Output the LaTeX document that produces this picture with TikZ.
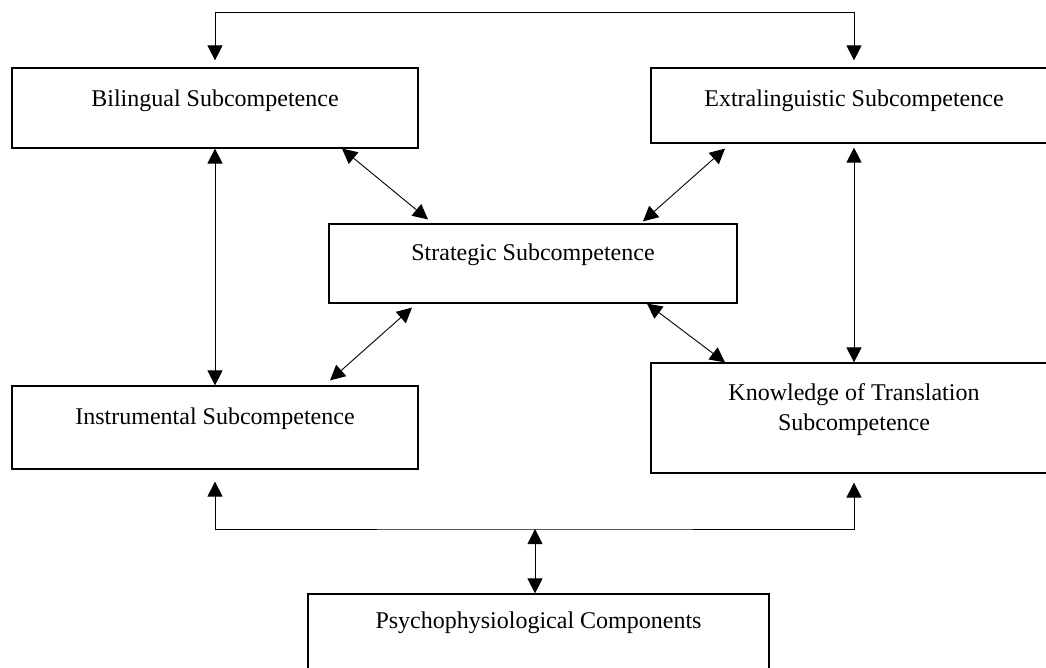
\documentclass[tikz,border=0pt]{standalone}
\usepackage{fontspec}
\setmainfont{Liberation Serif}
\usetikzlibrary{arrows.meta}

\begin{document}
\begin{tikzpicture}[x=1pt,y=-1pt,font=\fontsize{24}{30}\selectfont,>={Triangle[length=15pt,width=15pt]},
  sub/.style={draw,line width=1.2pt,inner sep=0,minimum width=406pt,align=center},
  link/.style={<->,line width=0.9pt}]
\useasboundingbox (0,0) rectangle (1046,667);
\node[sub,text height=38pt,text depth=42pt] (bil) at (215,108){Bilingual Subcompetence};
\node[sub,text height=38pt,text depth=37pt] (ext) at (854,105.5){Extralinguistic Subcompetence};
\node[sub,minimum width=408pt,text height=36pt,text depth=43pt] (str) at (533,263.5){Strategic Subcompetence};
\node[sub,text height=38pt,text depth=45pt] (ins) at (215,427.5){Instrumental Subcompetence};
\node[sub,text height=67pt,text depth=43pt] (kno) at (854,418){Knowledge of Translation\\Subcompetence};
\node[sub,minimum width=461pt,text height=34pt,text depth=46pt] (psy) at (538.5,634){Psychophysiological Components};
% links between the subcompetences
\draw[link,shorten <=7pt,shorten >=7pt] (bil.north) -- ++(0,-55) -| (ext.north);
\draw[link] (bil.south) -- (ins.north); \draw[link,shorten <=4pt] (ext.south) -- (kno.north);
\draw[link] ([xshift=127pt]bil.south) -- ([xshift=-105pt,yshift=4pt]str.north);\draw[link] ([xshift=-129pt,yshift=-5pt]ext.south) -- ([xshift=110pt,yshift=2pt]str.north);
\draw[link] ([xshift=-121pt,yshift=-4pt]str.south) -- ([xshift=115pt,yshift=5pt]ins.north);\draw[link] ([xshift=114pt]str.south) -- ([xshift=-129pt]kno.north);
\coordinate (jn) at (535,529);
\draw[link,shorten <=12pt,shorten >=9pt] (ins.south) |- (jn) -| (kno.south);
\draw[link] (jn) -- (jn |- psy.north);
\end{tikzpicture}
\end{document}
